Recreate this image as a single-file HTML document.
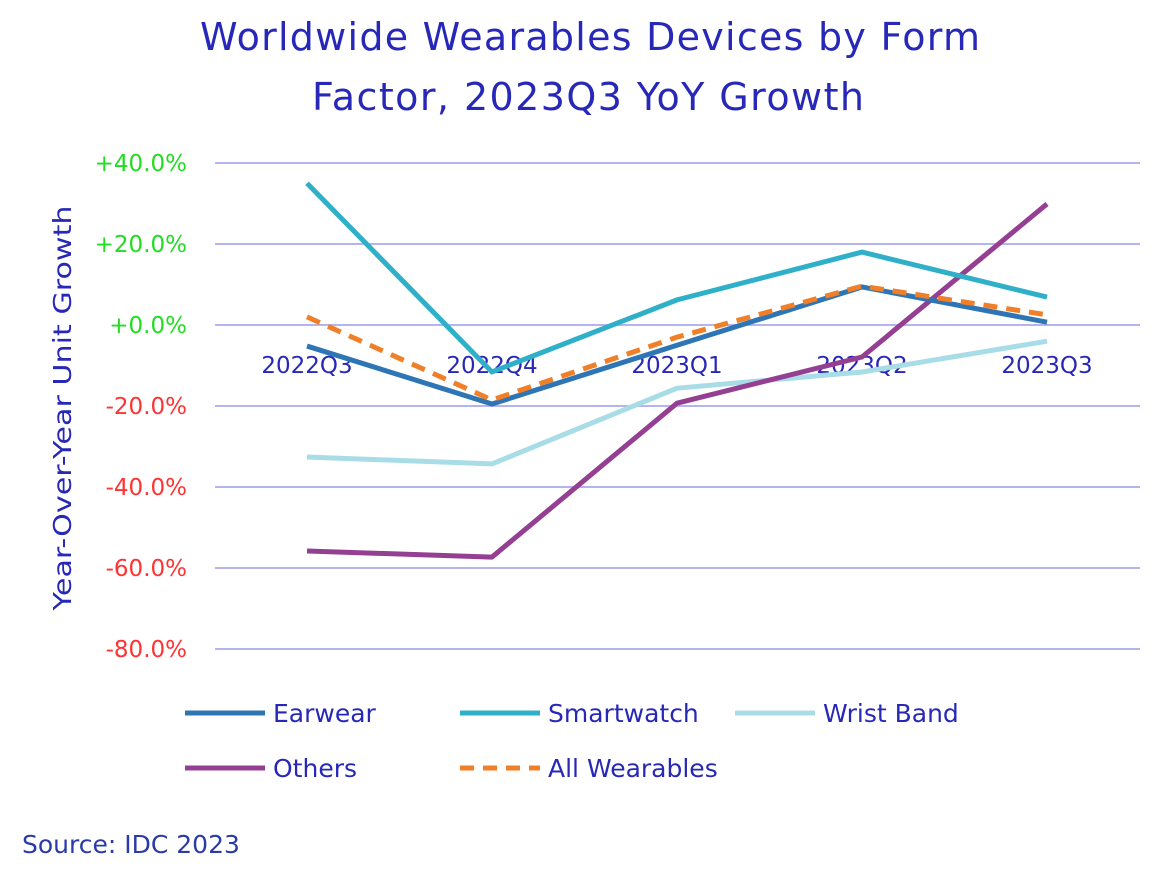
<!DOCTYPE html>
<html><head><meta charset="utf-8"><style>
body{margin:0;background:#fff;}
svg{display:block;font-family:"DejaVu Sans","Liberation Sans",sans-serif;}
</style></head><body>
<svg id="chart" width="1174" height="877">
<text x="590" y="50" text-anchor="middle" font-size="38" fill="#2828b8" textLength="780">Worldwide Wearables Devices by Form</text>
<text x="588" y="110" text-anchor="middle" font-size="38" fill="#2828b8" textLength="552">Factor, 2023Q3 YoY Growth</text>
<text transform="translate(71,408) rotate(-90)" text-anchor="middle" font-size="25" fill="#2828b8" textLength="405" lengthAdjust="spacingAndGlyphs">Year-Over-Year Unit Growth</text>
<g id="grid"></g><g id="yticks"></g><g id="xlabels"></g><g id="series"></g><g id="legend"></g>
<text x="22" y="853" font-size="25" fill="#2a3aa8">Source: IDC 2023</text>
</svg>
<script>
const categories=["2022Q3","2022Q4","2023Q1","2023Q2","2023Q3"];
const yTicks=[40,20,0,-20,-40,-60,-80];
const earwear=[-5.2,-19.5,-5,9.4,0.7];
const smartwatch=[35,-11.6,6.2,18,6.9];
const wristBand=[-32.6,-34.3,-15.6,-11.6,-4];
const others=[-55.8,-57.3,-19.3,-7.9,29.9];
const allWearables=[2,-18.5,-3,9.6,2.5];
const NS="http://www.w3.org/2000/svg";
const y=v=>325-v*4.05;
const x=i=>307+i*185;
function mk(t,a,p){const e=document.createElementNS(NS,t);for(const k in a)e.setAttribute(k,a[k]);document.getElementById(p).appendChild(e);return e;}
yTicks.forEach(v=>{
 const g=mk("line",{x1:215,x2:1140,y1:y(v),y2:y(v),stroke:"#b4b4f0","stroke-width":2},"grid");
 
 
 const t=mk("text",{x:187,y:y(v)+8,"text-anchor":"end","font-size":23,fill:v>=0?"#22dd22":"#ff3333"},"yticks");
 t.textContent=(v>=0?"+":"")+v.toFixed(1)+"%";
 
 
});
categories.forEach((c,i)=>{
 const t=mk("text",{x:x(i),y:373,"text-anchor":"middle","font-size":23,fill:"#2828b8"},"xlabels");
 t.textContent=c;
 
 
});
const defs=[
 ["earwear","Earwear",earwear,"#2e75b6",""],
 ["smartwatch","Smartwatch",smartwatch,"#2fb0c8",""],
 ["wrist-band","Wrist Band",wristBand,"#a8dce6",""],
 ["others","Others",others,"#953f92",""],
 ["all-wearables","All Wearables",allWearables,"#f07f28","14,9"]];
const order=[2,3,0,1,4];
order.forEach(k=>{const d=defs[k];
 const p=mk("polyline",{points:d[2].map((v,i)=>x(i)+","+y(v)).join(" "),fill:"none",stroke:d[3],"stroke-width":5,"stroke-dasharray":d[4]||"none","stroke-linejoin":"round"},"series");
 
 
});
const lpos=[[185,713],[460,713],[735,713],[185,768],[460,768]];
defs.forEach((d,k)=>{const [lx,ly]=lpos[k];
 const l=mk("line",{x1:lx,x2:lx+80,y1:ly,y2:ly,stroke:d[3],"stroke-width":5,"stroke-dasharray":d[4]||"none"},"legend");
 
 
 const t=mk("text",{x:lx+88,y:ly+9,"font-size":25,fill:"#2828b8"},"legend");
 t.textContent=d[1];
 
 
});
</script>
</body></html>
